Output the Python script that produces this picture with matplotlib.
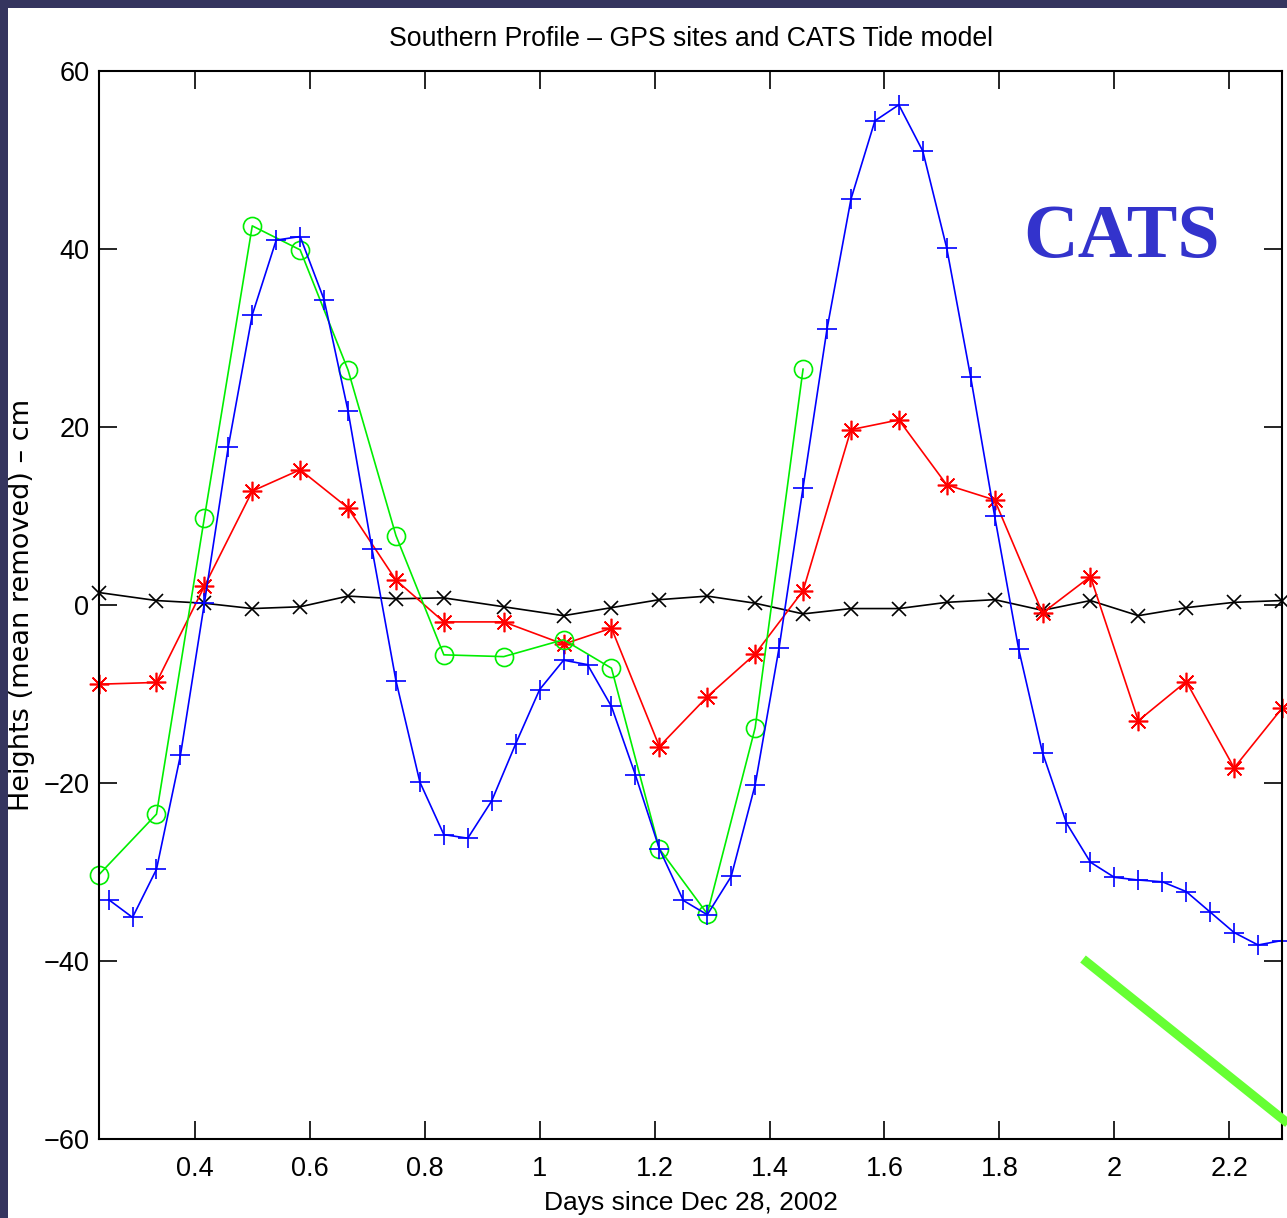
import numpy as np
import matplotlib
matplotlib.use("Agg")
import matplotlib.pyplot as plt
from matplotlib.lines import Line2D
from matplotlib.patches import Rectangle

# sample times (hours since Dec 28, 2002) -> days
gps_hours = [5.6, 8, 10, 12, 14, 16, 18, 20, 22.5, 25, 27, 29, 31, 33, 35,
             37, 39, 41, 43, 45, 47, 49, 51, 53, 55]
cats_hours = list(np.arange(6, 56, 1.0))

black_vals = [1.4, 0.5, 0.2, -0.4, -0.2, 1.0, 0.7, 0.8, -0.2, -1.2, -0.3, 0.6, 1.0,
              0.2, -1.0, -0.4, -0.4, 0.3, 0.6, -0.6, 0.5, -1.2, -0.3, 0.3, 0.5]
red_vals = [-8.9, -8.7, 2.1, 12.8, 15.2, 10.9, 2.8, -1.9, -1.9, -4.4, -2.6, -15.9, -10.3,
            -5.5, 1.6, 19.7, 20.8, 13.5, 11.8, -0.9, 3.2, -13.0, -8.6, -18.3, -11.6]
green_vals = [-30.3, -23.5, 9.8, 42.6, 39.9, 26.4, 7.8, -5.6, -5.8, -3.9, -7.1, -27.4,
              -34.7, -13.8, 26.5]
blue_vals = [-33.1, -35.1, -29.7, -16.9, 0.2, 17.8, 32.6, 41.0, 41.4, 34.3, 21.8, 6.3,
             -8.5, -19.9, -25.8, -26.2, -22.0, -15.6, -9.5, -6.2, -6.7, -11.4, -19.1,
             -27.4, -33.2, -34.8, -30.5, -20.2, -4.8, 13.2, 31.0, 45.6, 54.4, 56.2, 51.0,
             40.1, 25.6, 10.0, -4.9, -16.6, -24.5, -28.9, -30.6, -30.9, -31.1, -32.2,
             -34.5, -36.8, -38.2, -37.7]

gps_days = np.array(gps_hours) / 24.0
cats_days = np.array(cats_hours) / 24.0

W, H = 1287, 1218
plt.rcParams['font.family'] = ['Liberation Sans', 'DejaVu Sans']
fig = plt.figure(figsize=(W / 100, H / 100), dpi=100, facecolor='#35355f')
fig.patches.append(Rectangle((8 / W, 0), 1, 1 - 8 / H, transform=fig.transFigure,
                             facecolor='white', edgecolor='none', zorder=-5))

ax = fig.add_axes([99 / W, 1 - 1139 / H, (1282 - 99) / W, (1139 - 71) / H])
ax.set_facecolor('white')

lw = 1.2
ax.plot(gps_days, black_vals, color='black', lw=lw, marker='x', ms=10, mew=1.2, clip_on=False)
ax.plot(gps_days, red_vals, color='red', lw=lw, marker=(8, 2, 0), ms=14, mew=1.2, clip_on=False)
ax.plot(gps_days[:len(green_vals)], green_vals, color='#00ee00', lw=lw, marker='o', ms=13,
        mfc='none', mew=1.2, clip_on=False)
ax.plot(cats_days, blue_vals, color='blue', lw=lw, marker='+', ms=15, mew=1.2, clip_on=False)

ax.set_xlim(gps_days[0], gps_days[-1])
ax.set_ylim(-60, 60)
ax.set_xticks([0.4, 0.6, 0.8, 1.0, 1.2, 1.4, 1.6, 1.8, 2.0, 2.2])
ax.set_xticklabels(['0.4', '0.6', '0.8', '1', '1.2', '1.4', '1.6', '1.8', '2', '2.2'])
ax.set_yticks([-60, -40, -20, 0, 20, 40, 60])
ax.set_yticklabels(['\u221260', '\u221240', '\u221220', '0', '20', '40', '60'])
ax.tick_params(direction='in', length=13, width=1.2, top=True, right=True,
               labelsize=19.5)
ax.tick_params(axis='x', pad=12)
ax.tick_params(axis='y', pad=7)
for s in ax.spines.values():
    s.set_linewidth(1.5)

ax.set_title('Southern Profile \u2013 GPS sites and CATS Tide model', fontsize=19.2, pad=18)
ax.set_xlabel('Days since Dec 28, 2002', fontsize=19, labelpad=7)
ax.set_ylabel('Heights (mean removed) \u2013 cm', fontsize=19.5, family='DejaVu Sans')
ax.yaxis.set_label_coords(-0.054, 0.5)

ax.text(0.864, 0.843, 'CATS', transform=ax.transAxes, ha='center', va='center',
        fontsize=54.5, fontweight='bold', color='#3333cc', family='Liberation Serif')

# green pointer stroke from the slide
fig.lines.append(Line2D([1083 / W, 1290 / W], [1 - 959 / H, 1 - 1125 / H],
                        transform=fig.transFigure, color='#66ff33', lw=6.5,
                        solid_capstyle='butt'))

fig.savefig('out.png', dpi=100, facecolor=fig.get_facecolor())
